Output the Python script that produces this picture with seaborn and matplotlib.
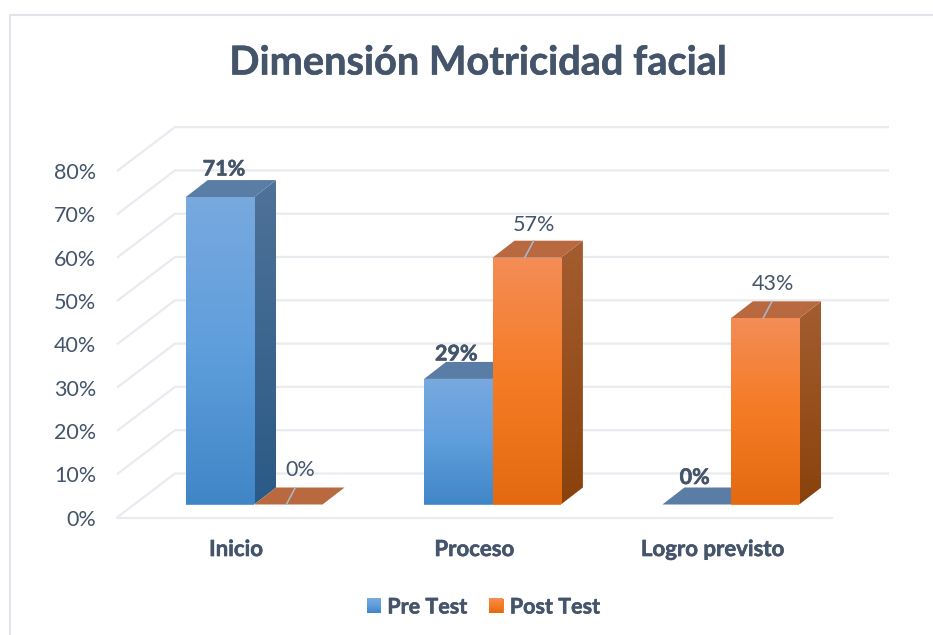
import numpy as np
import pandas as pd
import matplotlib
matplotlib.use("Agg")
import matplotlib.pyplot as plt
import matplotlib.patheffects as pe
from matplotlib.lines import Line2D
from matplotlib.patches import Polygon
import seaborn as sns

# values
categorias = ["Inicio", "Proceso", "Logro previsto"]
pre_test = [0.71, 0.29, 0.0]
post_test = [0.0, 0.57, 0.43]
series = ["Pre Test", "Post Test"]
y_ticks = [0, 0.1, 0.2, 0.3, 0.4, 0.5, 0.6, 0.7, 0.8]

W, H = 933, 635
TEXT = "#44546A"
GRID = "#E8EBF0"

# gradient colours per series: front, side and top faces (first colour is the upper one)
FRONT = {"Pre Test": ["#78A9DF", "#5F9EDC", "#4086C7"], "Post Test": ["#F38D57", "#F57B24", "#E46A12"]}
SIDE = {"Pre Test": ["#4F7299", "#2A5A86"], "Post Test": ["#A45D30", "#8A420C"]}
TOP = {"Pre Test": "#5A7DA6", "Post Test": "#B8693F"}

# label nudges in pixels, one per bar (blue bars, then orange bars)
label_nudge = [(4, 28), (-2, 25), (-2, 27), (12, 35), (7, 33), (8, 34)]

sns.set_theme(style="white")
plt.rcParams["font.family"] = ["Lato", "DejaVu Sans"]

df = pd.DataFrame({
    "categoria": categorias * 2,
    "valor": pre_test + post_test,
    "serie": [series[0]] * 3 + [series[1]] * 3,
})

fig = plt.figure(figsize=(W / 100, H / 100), dpi=100, facecolor="white")

# pixel sizes of the fake 3D box
step_px = 238.4
unit_px = 433.0
heavy = [pe.withStroke(linewidth=0.4, foreground=TEXT)]


def gradient(colors, n=200):
    rgb = np.array([matplotlib.colors.to_rgb(c) for c in colors])
    pos = np.linspace(0, 1, len(colors))
    t = np.linspace(0, 1, n)
    return np.stack([np.interp(t, pos, rgb[:, i]) for i in range(3)], axis=1)[:, None, :]


# wall axes: front plane of the box, holds the ticks and the grid
ax_wall = fig.add_axes([117 / W, (H - 517.5) / H, 715 / W, 346.4 / H])
ax_wall.set_xlim(-0.5, 2.5)
ax_wall.set_ylim(0, 0.8)
ax_wall.set_xticks(range(len(categorias)))
ax_wall.set_xticklabels(categorias, fontsize=16, fontweight="bold", color=TEXT, path_effects=heavy)
ax_wall.set_yticks(y_ticks)
ax_wall.set_yticklabels([f"{int(round(v * 100))}%" for v in y_ticks], fontsize=15.5, color=TEXT)
ax_wall.tick_params(axis="y", length=0, pad=15)
ax_wall.tick_params(axis="x", length=0, pad=15.5)
sns.despine(ax=ax_wall, left=True, bottom=True)

back_dx = 58 / step_px
back_dy = 44 / unit_px
x_right = 2.5 + 57 / step_px
for v in y_ticks:
    ax_wall.plot([-0.5, -0.5 + back_dx, x_right], [v, v + back_dy, v + back_dy],
                 color=GRID, lw=1.6, clip_on=False, solid_capstyle="butt", zorder=1)
ax_wall.plot([-0.5, 2.5], [0, 0], color=GRID, lw=1.6, clip_on=False, zorder=1)

# bars sit a little behind the front plane
ax = fig.add_axes([135 / W, (H - 504.5) / H, 715 / W, 346.4 / H])
ax.patch.set_alpha(0)
sns.barplot(data=df, x="categoria", y="valor", hue="serie", palette=[FRONT[s][1] for s in series],
            width=0.574, gap=0, ax=ax, saturation=1, legend=True, linewidth=0)
ax.set_xlim(-0.5, 2.5)
ax.set_ylim(0, 0.8)
ax.set_axis_off()

depth_x = 22 / step_px
depth_y = 17 / unit_px
zo = 3
bars = ax.patches
names = [series[0]] * 3 + [series[1]] * 3
for bar, name in zip(bars, names):
    x0 = bar.get_x()
    x1 = x0 + bar.get_width()
    h = bar.get_height()
    # side face
    if h > 0:
        side = Polygon([(x1, 0), (x1 + depth_x, depth_y), (x1 + depth_x, h + depth_y), (x1, h)],
                       closed=True, fc="none", ec="none", zorder=zo)
        ax.add_patch(side)
        im = ax.imshow(gradient(SIDE[name]), extent=(x1, x1 + depth_x, 0, h + depth_y),
                       aspect="auto", zorder=zo, origin="upper")
        im.set_clip_path(side)
    # top face
    ax.add_patch(Polygon([(x0, h), (x0 + depth_x, h + depth_y), (x1 + depth_x, h + depth_y), (x1, h)],
                         closed=True, fc=TOP[name], ec="none", zorder=zo + 1))
    # front face
    bar.set_zorder(zo + 2)
    if h > 0:
        im = ax.imshow(gradient(FRONT[name]), extent=(x0, x1, 0, h), aspect="auto",
                       zorder=zo + 3, origin="upper")
        im.set_clip_path(bar)
    zo += 4
ax.set_xlim(-0.5, 2.5)
ax.set_ylim(0, 0.8)

# data labels
for bar, name, nudge in zip(bars, names, label_nudge):
    h = bar.get_height()
    xc = bar.get_x() + bar.get_width() / 2
    if name == "Pre Test":
        ax.annotate(f"{h:.0%}", (xc, h), xytext=nudge, textcoords="offset pixels", ha="center",
                    va="center", fontsize=15.5, fontweight="bold", color=TEXT, zorder=60,
                    annotation_clip=False, path_effects=heavy)
    else:
        ax.plot([xc - 2 / step_px, xc + 7 / step_px], [h, h + depth_y], color="#A9BBD0", lw=1.1,
                zorder=59, clip_on=False)
        ax.annotate(f"{h:.0%}", (xc, h), xytext=nudge, textcoords="offset pixels", ha="center",
                    va="center", fontsize=15.5, color=TEXT, zorder=60, annotation_clip=False)

# title and outer frame
fig.text(478 / W, (H - 63) / H, "Dimensión Motricidad facial", ha="center", va="center",
         fontsize=28.6, fontweight="bold", color=TEXT, path_effects=heavy)
fig.add_artist(Line2D([9.5 / W, 9.5 / W, 1], [0, (H - 15) / H, (H - 15) / H], color="#E1E5EB", lw=1.5))

# legend
handles, labels = ax.get_legend_handles_labels()
ax.get_legend().remove()
leg = fig.legend(handles, labels, loc="center", bbox_to_anchor=(483.5 / W, (H - 607) / H), ncol=2, frameon=False,
                 handlelength=0.67, handleheight=0.67, handletextpad=0.28, columnspacing=1.03,
                 prop={"size": 15.5, "weight": "bold"}, labelcolor=TEXT)
for txt in leg.get_texts():
    txt.set_path_effects(heavy)
fig.canvas.draw()
for patch, name in zip(leg.get_patches(), series):
    bb = patch.get_window_extent()
    arr = np.repeat(gradient(FRONT[name], n=int(round(bb.height))), int(round(bb.width)), axis=1)
    fig.figimage(arr, xo=int(round(bb.x0)), yo=int(round(bb.y0)), origin="upper", zorder=20)

fig.savefig("out.png", dpi=100)
